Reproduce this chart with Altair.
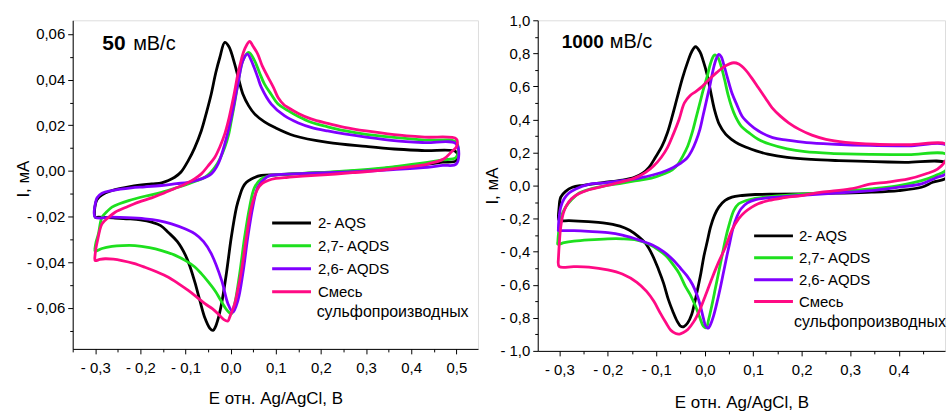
import altair as alt
import pandas as pd

FONT = "Liberation Sans"
SERIES = ["2- AQS", "2,7- AQDS", "2,6- AQDS", "Смесь сульфопроизводных"]
COLORS = ["#000000", "#1ee01e", "#8000ff", "#ff0a84"]
X_TITLE = "E отн. Ag/AgCl, В"
Y_TITLE = "I, мА"

# ---------------- 50 mV/s ----------------
E50_AQS_UP = [-0.301, -0.296, -0.285, -0.263, -0.22, -0.175, -0.153, -0.138, -0.124, -0.11, -0.094, -0.08, -0.065, -0.053, -0.043, -0.033, -0.024, -0.013, -0.004, 0.009, 0.018, 0.027, 0.04, 0.053, 0.075, 0.097, 0.141, 0.215, 0.3, 0.362, 0.43, 0.5]
I50_AQS_UP = [-0.016, -0.0125, -0.0105, -0.0086, -0.0068, -0.0057, -0.0052, -0.0042, -0.0028, -0.0005, 0.0045, 0.010, 0.0176, 0.026, 0.0337, 0.043, 0.0497, 0.0563, 0.0545, 0.0468, 0.040, 0.0337, 0.0285, 0.025, 0.0215, 0.0191, 0.0154, 0.0125, 0.0107, 0.0096, 0.0089, 0.0083]
E50_AQS_DN = [0.5, 0.47, 0.436, 0.36, 0.289, 0.2, 0.141, 0.1, 0.068, 0.046, 0.035, 0.027, 0.02, 0.013, 0.0015, -0.0095, -0.02, -0.028, -0.034, -0.039, -0.046, -0.057, -0.068, -0.079, -0.09, -0.1, -0.118, -0.138, -0.155, -0.175, -0.2, -0.226, -0.26, -0.293, -0.3]
I50_AQS_DN = [0.0045, 0.0038, 0.003, 0.0015, 0.0001, -0.0008, -0.0013, -0.0017, -0.002, -0.0035, -0.005, -0.0072, -0.011, -0.0159, -0.029, -0.045, -0.058, -0.065, -0.0685, -0.0699, -0.069, -0.0645, -0.057, -0.049, -0.042, -0.037, -0.031, -0.027, -0.024, -0.0225, -0.0215, -0.021, -0.0206, -0.0203, -0.0203]

E50_27_UP = [-0.301, -0.298, -0.293, -0.285, -0.274, -0.263, -0.245, -0.226, -0.19, -0.153, -0.12, -0.094, -0.075, -0.057, -0.045, -0.035, -0.024, -0.013, -0.005, 0.0015, 0.009, 0.016, 0.027, 0.04, 0.053, 0.064, 0.075, 0.09, 0.105, 0.127, 0.15, 0.178, 0.215, 0.252, 0.3, 0.362, 0.43, 0.5]
I50_27_UP = [-0.0345, -0.031, -0.0276, -0.0203, -0.0178, -0.0159, -0.0143, -0.013, -0.0111, -0.0094, -0.0074, -0.0057, -0.0043, -0.0028, -0.0008, 0.0016, 0.0052, 0.0103, 0.0155, 0.022, 0.030, 0.038, 0.0483, 0.0519, 0.0483, 0.043, 0.038, 0.0335, 0.0293, 0.0264, 0.0238, 0.0213, 0.0193, 0.0176, 0.016, 0.0147, 0.0135, 0.0125]
E50_27_DN = [0.5, 0.47, 0.436, 0.36, 0.289, 0.2, 0.105, 0.085, 0.068, 0.053, 0.042, 0.031, 0.02, 0.009, 0.0015, -0.006, -0.013, -0.024, -0.035, -0.05, -0.065, -0.08, -0.1, -0.125, -0.153, -0.18, -0.212, -0.24, -0.263, -0.285, -0.3]
I50_27_DN = [0.006, 0.0048, 0.0037, 0.0018, 0.0004, -0.0007, -0.0016, -0.0022, -0.0035, -0.0072, -0.0159, -0.029, -0.045, -0.0582, -0.0626, -0.0615, -0.0597, -0.056, -0.0524, -0.0485, -0.045, -0.042, -0.0393, -0.0368, -0.0349, -0.0336, -0.0327, -0.0327, -0.0331, -0.034, -0.0352]

E50_26_UP = [-0.302, -0.3, -0.296, -0.285, -0.263, -0.22, -0.19, -0.153, -0.12, -0.094, -0.065, -0.043, -0.028, -0.013, 0.0015, 0.016, 0.027, 0.037, 0.049, 0.06, 0.068, 0.09, 0.119, 0.15, 0.178, 0.215, 0.252, 0.3, 0.362, 0.43, 0.5]
I50_26_UP = [-0.017, -0.0145, -0.0118, -0.0098, -0.0086, -0.0074, -0.007, -0.0064, -0.0056, -0.005, -0.0035, -0.0013, 0.003, 0.0118, 0.0235, 0.038, 0.0483, 0.0512, 0.0468, 0.041, 0.0366, 0.0293, 0.0242, 0.021, 0.0191, 0.0175, 0.0162, 0.0148, 0.0133, 0.0124, 0.0118]
E50_26_DN = [0.5, 0.47, 0.436, 0.36, 0.289, 0.178, 0.105, 0.085, 0.075, 0.06, 0.049, 0.038, 0.027, 0.016, 0.005, -0.006, -0.02, -0.043, -0.06, -0.079, -0.1, -0.131, -0.16, -0.19, -0.23, -0.263, -0.3]
I50_26_DN = [0.003, 0.0024, 0.0016, 0.0006, -0.0002, -0.001, -0.0016, -0.0022, -0.0035, -0.0072, -0.0159, -0.029, -0.045, -0.0568, -0.0619, -0.0582, -0.048, -0.0363, -0.031, -0.0276, -0.0255, -0.0232, -0.0218, -0.021, -0.0205, -0.0203, -0.0203]

E50_MIX_UP = [-0.301, -0.299, -0.295, -0.285, -0.27, -0.256, -0.23, -0.204, -0.175, -0.153, -0.125, -0.1, -0.08, -0.065, -0.05, -0.035, -0.024, -0.013, -0.005, 0.0015, 0.009, 0.016, 0.024, 0.031, 0.042, 0.05, 0.06, 0.07, 0.083, 0.095, 0.105, 0.118, 0.127, 0.15, 0.178, 0.215, 0.252, 0.3, 0.362, 0.43, 0.5]
I50_MIX_UP = [-0.038, -0.0345, -0.0305, -0.0232, -0.0203, -0.0181, -0.0158, -0.0137, -0.0118, -0.0101, -0.0078, -0.0057, -0.0035, -0.0013, 0.0022, 0.006, 0.0105, 0.0162, 0.022, 0.0278, 0.035, 0.0424, 0.049, 0.0534, 0.0567, 0.0545, 0.0512, 0.046, 0.041, 0.0365, 0.0322, 0.029, 0.0278, 0.0252, 0.0228, 0.0208, 0.0191, 0.0175, 0.0159, 0.0148, 0.014]
E50_MIX_DN = [0.5, 0.49, 0.472, 0.436, 0.38, 0.326, 0.27, 0.215, 0.16, 0.127, 0.1, 0.083, 0.07, 0.06, 0.046, 0.035, 0.024, 0.016, 0.009, -0.002, -0.006, -0.015, -0.028, -0.04, -0.057, -0.075, -0.094, -0.115, -0.138, -0.163, -0.19, -0.215, -0.241, -0.26, -0.278, -0.29, -0.3]
I50_MIX_DN = [0.0105, 0.0085, 0.0052, 0.003, 0.0014, 0.0001, -0.0008, -0.0016, -0.0023, -0.0028, -0.0033, -0.0042, -0.0055, -0.0079, -0.0159, -0.029, -0.0436, -0.052, -0.0582, -0.064, -0.0658, -0.0652, -0.0626, -0.0605, -0.0582, -0.0553, -0.0524, -0.0495, -0.0466, -0.0443, -0.0422, -0.0405, -0.0393, -0.0387, -0.0385, -0.0388, -0.0393]

# ---------------- 1000 mV/s ----------------
E1000_AQS_UP = [-0.302, -0.301, -0.297, -0.287, -0.273, -0.25, -0.21, -0.17, -0.145, -0.128, -0.115, -0.102, -0.088, -0.077, -0.067, -0.057, -0.046, -0.035, -0.027, -0.019, -0.01, -0.003, 0.005, 0.012, 0.02, 0.03, 0.043, 0.055, 0.07, 0.087, 0.106, 0.13, 0.17, 0.22, 0.276, 0.35, 0.413, 0.5]
I1000_AQS_UP = [-0.19, -0.15, -0.07, -0.035, -0.01, 0.002, 0.018, 0.033, 0.05, 0.075, 0.11, 0.17, 0.24, 0.32, 0.42, 0.53, 0.65, 0.75, 0.81, 0.84, 0.81, 0.753, 0.67, 0.57, 0.46, 0.37, 0.311, 0.28, 0.252, 0.23, 0.21, 0.19, 0.17, 0.158, 0.151, 0.145, 0.14, 0.134]
E1000_AQS_DN = [0.5, 0.47, 0.447, 0.4, 0.344, 0.27, 0.207, 0.15, 0.104, 0.077, 0.056, 0.042, 0.029, 0.02, 0.012, 0.005, -0.002, -0.008, -0.015, -0.021, -0.027, -0.035, -0.043, -0.05, -0.057, -0.066, -0.075, -0.085, -0.095, -0.108, -0.122, -0.136, -0.155, -0.175, -0.21, -0.24, -0.28, -0.3]
I1000_AQS_DN = [0.05, 0.02, -0.01, -0.03, -0.04, -0.046, -0.05, -0.052, -0.054, -0.06, -0.07, -0.09, -0.13, -0.18, -0.25, -0.34, -0.43, -0.53, -0.63, -0.71, -0.78, -0.83, -0.853, -0.85, -0.82, -0.76, -0.69, -0.59, -0.51, -0.42, -0.35, -0.31, -0.27, -0.245, -0.225, -0.218, -0.212, -0.211]

E1000_27_UP = [-0.303, -0.301, -0.297, -0.287, -0.273, -0.259, -0.235, -0.204, -0.17, -0.14, -0.11, -0.085, -0.067, -0.055, -0.045, -0.035, -0.026, -0.018, -0.01, -0.003, 0.005, 0.012, 0.0185, 0.022, 0.028, 0.034, 0.041, 0.048, 0.055, 0.063, 0.075, 0.091, 0.11, 0.135, 0.17, 0.207, 0.26, 0.344, 0.42, 0.5]
I1000_27_UP = [-0.34, -0.27, -0.2, -0.13, -0.08, -0.045, -0.02, 0.0, 0.015, 0.03, 0.045, 0.07, 0.095, 0.13, 0.18, 0.24, 0.32, 0.41, 0.5, 0.58, 0.66, 0.74, 0.785, 0.79, 0.77, 0.72, 0.64, 0.55, 0.48, 0.42, 0.36, 0.32, 0.28, 0.25, 0.222, 0.205, 0.195, 0.189, 0.187, 0.186]
E1000_27_DN = [0.5, 0.475, 0.447, 0.4, 0.344, 0.27, 0.207, 0.15, 0.125, 0.1, 0.084, 0.07, 0.06, 0.05, 0.043, 0.036, 0.029, 0.022, 0.015, 0.008, 0.003, -0.003, -0.01, -0.019, -0.03, -0.04, -0.053, -0.065, -0.078, -0.095, -0.115, -0.14, -0.17, -0.2, -0.239, -0.27, -0.29, -0.303]
I1000_27_DN = [0.1, 0.06, 0.03, 0.0, -0.02, -0.038, -0.05, -0.062, -0.07, -0.08, -0.092, -0.11, -0.15, -0.24, -0.32, -0.42, -0.52, -0.62, -0.72, -0.81, -0.86, -0.85, -0.8, -0.73, -0.66, -0.61, -0.53, -0.48, -0.43, -0.39, -0.355, -0.33, -0.322, -0.322, -0.328, -0.336, -0.345, -0.355]

E1000_26_UP = [-0.302, -0.301, -0.297, -0.29, -0.28, -0.266, -0.239, -0.211, -0.17, -0.143, -0.12, -0.1, -0.08, -0.065, -0.05, -0.037, -0.027, -0.018, -0.01, -0.003, 0.004, 0.011, 0.018, 0.024, 0.029, 0.034, 0.039, 0.047, 0.056, 0.066, 0.077, 0.093, 0.111, 0.14, 0.17, 0.21, 0.27, 0.34, 0.42, 0.5]
I1000_26_UP = [-0.27, -0.21, -0.13, -0.08, -0.045, -0.02, 0.008, 0.015, 0.03, 0.04, 0.055, 0.07, 0.09, 0.11, 0.135, 0.165, 0.21, 0.27, 0.34, 0.43, 0.52, 0.61, 0.71, 0.77, 0.793, 0.78, 0.735, 0.65, 0.56, 0.49, 0.42, 0.37, 0.33, 0.29, 0.275, 0.26, 0.25, 0.243, 0.24, 0.24]
E1000_26_DN = [0.5, 0.475, 0.447, 0.4, 0.344, 0.27, 0.207, 0.15, 0.125, 0.105, 0.088, 0.075, 0.066, 0.058, 0.052, 0.046, 0.039, 0.032, 0.025, 0.018, 0.012, 0.007, 0.002, -0.003, -0.008, -0.015, -0.025, -0.037, -0.05, -0.065, -0.085, -0.108, -0.135, -0.17, -0.2, -0.24, -0.27, -0.29, -0.302]
I1000_26_DN = [0.08, 0.045, 0.01, -0.01, -0.03, -0.045, -0.058, -0.07, -0.076, -0.085, -0.105, -0.14, -0.19, -0.26, -0.34, -0.42, -0.52, -0.62, -0.71, -0.79, -0.84, -0.863, -0.85, -0.8, -0.74, -0.67, -0.6, -0.545, -0.5, -0.45, -0.4, -0.36, -0.33, -0.3, -0.285, -0.277, -0.273, -0.272, -0.272]

E1000_MIX_UP = [-0.302, -0.3, -0.297, -0.292, -0.285, -0.275, -0.26, -0.239, -0.21, -0.175, -0.145, -0.122, -0.105, -0.09, -0.077, -0.065, -0.053, -0.042, -0.03, -0.018, -0.005, 0.01, 0.025, 0.04, 0.05, 0.06, 0.07, 0.084, 0.097, 0.111, 0.125, 0.139, 0.156, 0.173, 0.195, 0.221, 0.25, 0.29, 0.35, 0.42, 0.5]
I1000_MIX_UP = [-0.45, -0.35, -0.25, -0.17, -0.12, -0.08, -0.05, -0.025, -0.005, 0.02, 0.045, 0.08, 0.12, 0.17, 0.23, 0.31, 0.4, 0.5, 0.545, 0.57, 0.6, 0.645, 0.685, 0.72, 0.735, 0.743, 0.735, 0.7, 0.65, 0.59, 0.53, 0.47, 0.42, 0.38, 0.34, 0.305, 0.28, 0.262, 0.25, 0.247, 0.247]
E1000_MIX_DN = [0.5, 0.48, 0.455, 0.42, 0.375, 0.344, 0.3, 0.241, 0.2, 0.16, 0.132, 0.11, 0.097, 0.083, 0.07, 0.056, 0.043, 0.029, 0.015, 0.002, -0.01, -0.022, -0.035, -0.045, -0.052, -0.06, -0.07, -0.08, -0.092, -0.105, -0.12, -0.14, -0.17, -0.2, -0.239, -0.27, -0.3]
I1000_MIX_DN = [0.17, 0.1, 0.07, 0.04, 0.02, 0.01, -0.02, -0.04, -0.06, -0.075, -0.09, -0.11, -0.13, -0.16, -0.2, -0.27, -0.37, -0.46, -0.56, -0.66, -0.75, -0.82, -0.87, -0.89, -0.898, -0.895, -0.875, -0.83, -0.77, -0.7, -0.64, -0.585, -0.535, -0.51, -0.493, -0.49, -0.49]

# ticks
X_MAJOR_50 = [-0.3, -0.2, -0.1, 0.0, 0.1, 0.2, 0.3, 0.4, 0.5]
X_MINOR_50 = [-0.35, -0.25, -0.15, -0.05, 0.05, 0.15, 0.25, 0.35, 0.45]
Y_MAJOR_50 = [-0.06, -0.04, -0.02, 0.0, 0.02, 0.04, 0.06]
Y_MINOR_50 = [-0.07, -0.05, -0.03, -0.01, 0.01, 0.03, 0.05]
X_MAJOR_1000 = [-0.3, -0.2, -0.1, 0.0, 0.1, 0.2, 0.3, 0.4]
X_MINOR_1000 = [-0.25, -0.15, -0.05, 0.05, 0.15, 0.25, 0.35, 0.45]
Y_MAJOR_1000 = [-1.0, -0.8, -0.6, -0.4, -0.2, 0.0, 0.2, 0.4, 0.6, 0.8, 1.0]
Y_MINOR_1000 = [-0.9, -0.7, -0.5, -0.3, -0.1, 0.1, 0.3, 0.5, 0.7, 0.9]


def build_df(curves):
    rows = []
    for name, (eu, iu, ed, idn) in zip(SERIES, curves):
        E = eu + ed + [eu[0]]
        I = iu + idn + [iu[0]]
        for k, (e, i) in enumerate(zip(E, I)):
            rows.append({"E": e, "I": i, "series": name, "idx": k})
    return pd.DataFrame(rows)


DF50 = build_df([
    (E50_AQS_UP, I50_AQS_UP, E50_AQS_DN, I50_AQS_DN),
    (E50_27_UP, I50_27_UP, E50_27_DN, I50_27_DN),
    (E50_26_UP, I50_26_UP, E50_26_DN, I50_26_DN),
    (E50_MIX_UP, I50_MIX_UP, E50_MIX_DN, I50_MIX_DN),
])
DF1000 = build_df([
    (E1000_AQS_UP, I1000_AQS_UP, E1000_AQS_DN, I1000_AQS_DN),
    (E1000_27_UP, I1000_27_UP, E1000_27_DN, I1000_27_DN),
    (E1000_26_UP, I1000_26_UP, E1000_26_DN, I1000_26_DN),
    (E1000_MIX_UP, I1000_MIX_UP, E1000_MIX_DN, I1000_MIX_DN),
])


def lbl(fmt):
    return ("(datum.value < -1e-9 ? '- ' : '') + "
            f"replace(format(abs(datum.value), '{fmt}'), '.', ',')")


def panel(df, xdom, ydom, xmaj, xmin, ymaj, ymin, yfmt, w, h,
          leg_x, leg_y, row_pad, lab_off, rate, rate_size, rate_x, unit_x,
          text_y, sub_x, sub_y, ytitle_x, ytitle_y, xtitle_y):
    xs = alt.Scale(domain=xdom, nice=False, zero=False)
    ys = alt.Scale(domain=ydom, nice=False, zero=False)
    common = dict(grid=False, tickColor="black", domainColor="black",
                  tickWidth=1, domainWidth=1, labelColor="black",
                  labelFont=FONT, labelFontSize=15, titleFont=FONT,
                  titleFontSize=17, titleFontWeight="normal",
                  titleColor="black", labelOverlap=False, labelFlush=False)
    base = alt.Chart(df)
    lines = base.mark_line(interpolate="catmull-rom", strokeWidth=2.8,
                           clip=True, strokeJoin="round").encode(
        x=alt.X("E:Q", scale=xs, axis=alt.Axis(
            values=xmaj, orient="bottom", title=X_TITLE, tickSize=5,
            labelPadding=7, labelExpr=lbl(".1f"), titleY=xtitle_y,
            titleBaseline="middle", **common)),
        y=alt.Y("I:Q", scale=ys, axis=alt.Axis(
            values=ymaj, orient="left", title=Y_TITLE, tickSize=5,
            labelPadding=3, labelExpr=lbl(yfmt), titleX=ytitle_x,
            titleY=ytitle_y, titleAngle=270, titleAlign="center",
            titleBaseline="middle", **common)),
        color=alt.Color("series:N",
                        scale=alt.Scale(domain=SERIES, range=COLORS),
                        legend=alt.Legend(
                            title=None, orient="none", legendX=leg_x,
                            legendY=leg_y, symbolType="M-4.875,0H4.875",
                            symbolSize=64, symbolStrokeWidth=3,
                            labelFont=FONT, labelFontSize=15,
                            labelColor="black", labelOffset=lab_off,
                            rowPadding=row_pad, padding=0, labelLimit=0,
                            labelExpr="datum.label == 'Смесь сульфопроизводных' ? 'Смесь' : datum.label")),
        order="idx:Q",
    )
    minor = base.mark_line(opacity=0, clip=True).encode(
        x=alt.X("E:Q", scale=xs, axis=alt.Axis(
            values=xmin, orient="bottom", labels=False, domain=False,
            tickSize=3, title=None, grid=False, tickColor="black")),
        y=alt.Y("I:Q", scale=ys, axis=alt.Axis(
            values=ymin, orient="left", labels=False, domain=False,
            tickSize=3, title=None, grid=False, tickColor="black")),
        detail="series:N",
        order="idx:Q",
    )
    t_rate = alt.Chart(pd.DataFrame({"t": [rate]})).mark_text(
        align="left", baseline="alphabetic", font=FONT, fontSize=rate_size,
        fontWeight="bold", color="black").encode(
        text="t:N", x=alt.value(rate_x), y=alt.value(text_y))
    t_unit = alt.Chart(pd.DataFrame({"t": ["мВ/с"]})).mark_text(
        align="left", baseline="alphabetic", font=FONT, fontSize=20,
        color="black").encode(
        text="t:N", x=alt.value(unit_x), y=alt.value(text_y))
    t_sub = alt.Chart(pd.DataFrame({"t": ["сульфопроизводных"]})).mark_text(
        align="left", baseline="middle", font=FONT, fontSize=16,
        color="black").encode(
        text="t:N", x=alt.value(sub_x), y=alt.value(sub_y))
    return alt.layer(lines, minor, t_rate, t_unit, t_sub).resolve_axis(
        x="independent", y="independent").properties(width=w, height=h)


left = panel(DF50, [-0.35, 0.548], [-0.078, 0.066], X_MAJOR_50, X_MINOR_50,
             Y_MAJOR_50, Y_MINOR_50, ".2f", 407, 330,
             212.3, 196, 7, 19, "50", 21, 29.7, 60.7, 30.3,
             245, 292.7, -49.5, 159, 50)
right = panel(DF1000, [-0.3445, 0.4955], [-1.0, 1.0], X_MAJOR_1000,
              X_MINOR_1000, Y_MAJOR_1000, Y_MINOR_1000, ".1f", 409, 332,
              229.3, 209, 6, 18, "1000", 19, 24, 72.3, 27.7,
              257.3, 302.7, -45.7, 166, 52)

chart = alt.hconcat(left, right, spacing=60, bounds="flush").resolve_scale(
    x="independent", y="independent", color="independent"
).properties(
    padding={"left": 14, "top": 11.5, "right": 0, "bottom": 0},
    autosize=alt.AutoSizeParams(type="pad"),
).configure_view(stroke=None).configure(font=FONT)

chart.save("out.html", embed_options={"renderer": "svg", "actions": False})
